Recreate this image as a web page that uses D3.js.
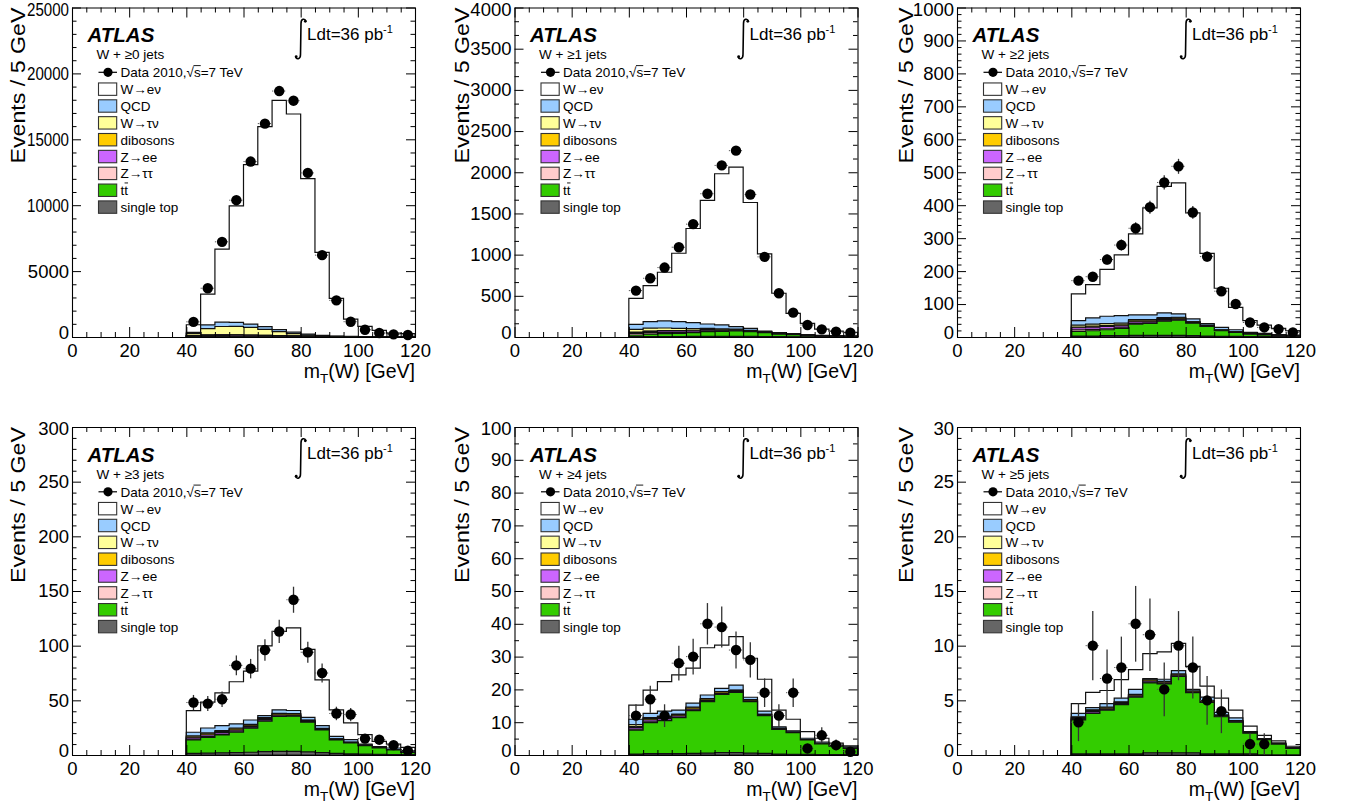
<!DOCTYPE html>
<html><head><meta charset="utf-8">
<script src="https://cdn.jsdelivr.net/npm/d3@7"></script>
<style>
body{margin:0;background:#fff;}
svg text{font-family:"Liberation Sans",Arial,Helvetica,sans-serif;fill:#000;}
</style>
</head><body>
<svg id="chart" width="1346" height="810"></svg>
<script>
// ---------------- data ----------------
const binLow = [40,45,50,55,60,65,70,75,80,85,90,95,100,105,110,115];
const binWidth = 5;
const jetLabels = ["W + \u22650 jets","W + \u22651 jets","W + \u22652 jets","W + \u22653 jets","W + \u22654 jets","W + \u22655 jets"];
const yMaxes = [25000,4000,1000,300,100,30];
const yMajorSteps = [5000,500,100,50,10,5];
const yMinorDivs = [5,3,5,5,2,5];
const xTicksMajor = [0,20,40,60,80,100,120];

const data0 = [1150,3700,7220,10380,13310,16190,18660,17930,12450,6210,2780,1160,550,300,200,150];
const wenu0 = [575,2344,5545,8840,12098,15176,17386,16557,11808,6301,2864,1319,774,484,289,242];
const qcd0 = [100,280,330,300,250,200,150,110,70,40,20,12,8,5,3,2];
const wtaunu0 = [150,480,620,640,580,450,300,160,70,30,15,8,5,3,2,1];
const dibosons0 = [5,8,10,12,12,12,12,10,8,5,3,2,1,1,1,0];
const zee0 = [20,40,60,70,70,60,50,40,30,20,12,8,5,3,2,2];
const ztautau0 = [60,80,70,50,30,20,10,5,3,2,1,1,1,0,0,0];
const ttbar0 = [15,20,25,28,30,32,32,30,25,18,12,8,5,3,2,2];
const singletop0 = [5,8,10,10,10,10,10,8,6,4,3,2,1,1,1,1];

const data1 = [563,713,843,1090,1370,1739,2083,2262,1730,973,531,296,146,93,65,53];
const wenu1 = [316,438,591,831,1143,1500,1836,1937,1528,936,478,248,136,75,57,45];
const qcd1 = [61,78,86,82,72,54,48,31,24,9,10,7,8,5,4,2];
const wtaunu1 = [35,35,30,25,20,15,10,7,4,2,1,1,1,0,0,0];
const dibosons1 = [4,5,6,6,6,6,6,5,5,4,3,2,1,1,1,1];
const zee1 = [10,15,18,18,16,14,10,8,6,4,3,2,1,1,1,0];
const ztautau1 = [20,18,15,10,7,4,3,2,1,1,0,0,0,0,0,0];
const ttbar1 = [20,30,34,39,46,57,61,65,58,47,32,25,17,12,8,6];
const singletop1 = [4,5,6,6,7,8,8,8,7,6,4,3,2,1,1,1];

const data2 = [171,183,235,279,330,394,469,518,378,244,139,100,44,29,24,14];
const wenu2 = [81,101,142,184,246,325,384,398,322,213,119,68,36,25,19,13];
const qcd2 = [14,19,22,23,14,14,14,10,8,5,7,6,3,4,3,2];
const wtaunu2 = [6,6,6,5,4,4,3,2,1,1,1,0,0,0,0,0];
const dibosons2 = [2,3,3,3,3,3,3,3,2,2,1,1,1,1,0,0];
const zee2 = [6,7,7,6,5,4,4,3,2,1,1,1,1,0,0,0];
const ztautau2 = [5,4,3,2,2,1,1,1,0,0,0,0,0,0,0,0];
const ttbar2 = [14,16,18,22,34,36,43,46,38,29,17,12,8,5,3,3];
const singletop2 = [3,3,4,4,5,5,5,5,4,3,2,2,1,1,1,1];

const data3 = [48,47,51,82,79,96,113,142,94,75,38,37,15,14,9,4];
const wenu3 = [19.8,23.6,30.0,38.6,44.7,63.9,71.7,75.6,62.2,41.9,24.3,15.3,8.6,4.9,3.6,3.0];
const qcd3 = [3.2,4.4,4.5,3.7,3.9,1.9,3.2,2.8,2.5,2.5,2.2,2.3,1.0,0.9,1.5,1.5];
const wtaunu3 = [1,1,0.9,0.8,0.7,0.6,0.5,0.4,0.3,0.2,0.1,0.1,0,0,0,0];
const dibosons3 = [0.8,1,1.1,1.2,1.2,1.2,1.2,1.1,1,0.8,0.6,0.4,0.3,0.2,0.2,0.1];
const zee3 = [1.2,1.5,1.6,1.5,1.4,1.2,1.0,0.8,0.6,0.5,0.3,0.2,0.1,0.1,0.1,0];
const ztautau3 = [0.8,0.6,0.5,0.4,0.3,0.2,0.2,0.1,0.1,0,0,0,0,0,0,0];
const ttbar3 = [12.3,14.4,16.3,18.6,22,27.9,31.9,32.2,27.2,20.7,12.4,10,7.8,5.8,4.2,2.1];
const singletop3 = [1.5,1.8,2,2.2,2.5,3,3.3,3.3,2.8,2.2,1.4,1,0.8,0.6,0.4,0.3];

const data4 = [12,17,12,28,30,40,39,32,29,19,12,19,2,6,3,1];
const wenu4 = [4.3,7.1,9.0,10.7,10.7,14.4,13.2,14.8,11.9,9.7,5.1,3.5,2.0,1.2,0.6,0.3];
const qcd4 = [1.6,1.3,1.6,1.2,1.2,1.1,1.0,1.5,0.7,1.0,0.5,0.4,0.4,0.4,0.2,0.5];
const wtaunu4 = [0.6,0.3,0.3,0.2,0.2,0.2,0.1,0.1,0.1,0,0,0,0,0,0,0];
const dibosons4 = [0.3,0.4,0.4,0.4,0.4,0.4,0.4,0.4,0.3,0.3,0.2,0.1,0.1,0.1,0.1,0];
const zee4 = [0.5,0.6,0.5,0.4,0.4,0.3,0.3,0.2,0.2,0.1,0.1,0.1,0,0,0,0];
const ztautau4 = [0.3,0.2,0.1,0.1,0.1,0,0,0,0,0,0,0,0,0,0,0];
const ttbar4 = [7.3,9.5,10.1,11.0,13.0,15.7,17.8,18.4,15.7,11.5,7.5,6.6,4.4,3.3,2.6,1.9];
const singletop4 = [0.3,0.4,0.4,0.4,0.5,0.6,0.7,0.7,0.6,0.5,0.3,0.2,0.2,0.1,0.1,0.1];

const data5 = [3,10,7,8,12,11,6,10,8,5,4,0,1,1,0,0];
const wenu5 = [0.9,1.4,1.2,1.7,1.8,2.3,2.5,2.5,2.1,1.0,1.3,0.7,0.5,0.3,0.2,0.15];
const qcd5 = [0.3,0.2,0.33,0.33,0.45,0.1,0.2,0.3,0.15,0.35,0.25,0.25,0.05,0.07,0.08,0.03];
const wtaunu5 = [0.05,0.05,0.05,0.05,0.03,0.02,0.02,0.01,0,0,0,0,0,0,0,0];
const dibosons5 = [0.1,0.1,0.1,0.1,0.1,0.1,0.1,0.1,0.1,0.1,0.05,0.05,0.05,0.03,0.02,0.02];
const zee5 = [0.1,0.15,0.1,0.1,0.1,0.15,0.1,0.1,0.05,0.05,0.1,0.1,0.05,0,0,0];
const ztautau5 = [0.05,0.03,0.02,0.02,0.02,0.01,0.01,0,0,0,0,0,0,0,0,0];
const ttbar5 = [3.1,3.7,4.0,4.5,5.2,6.4,6.3,7.0,5.5,4.7,3.4,2.9,1.9,1.4,1.0,0.6];
const singletop5 = [0.1,0.1,0.1,0.1,0.1,0.2,0.2,0.2,0.2,0.1,0.1,0.1,0.1,0,0,0];

// legend / components, bottom-to-top stacking order
const compNames = ["single top","t t\u0304","Z\u2192\u03c4\u03c4","Z\u2192ee","dibosons","W\u2192\u03c4\u03bd","QCD","W\u2192e\u03bd"];
const compColors = ["#666666","#33cc00","#ffcccc","#cc66ff","#ffcc00","#ffff99","#99ccff","#ffffff"];

const panels = [
  {data:data0, comps:[singletop0,ttbar0,ztautau0,zee0,dibosons0,wtaunu0,qcd0,wenu0]},
  {data:data1, comps:[singletop1,ttbar1,ztautau1,zee1,dibosons1,wtaunu1,qcd1,wenu1]},
  {data:data2, comps:[singletop2,ttbar2,ztautau2,zee2,dibosons2,wtaunu2,qcd2,wenu2]},
  {data:data3, comps:[singletop3,ttbar3,ztautau3,zee3,dibosons3,wtaunu3,qcd3,wenu3]},
  {data:data4, comps:[singletop4,ttbar4,ztautau4,zee4,dibosons4,wtaunu4,qcd4,wenu4]},
  {data:data5, comps:[singletop5,ttbar5,ztautau5,zee5,dibosons5,wtaunu5,qcd5,wenu5]}
];

// ---------------- layout ----------------
const colLeft = [72, 514.5, 957];
const rowTop = [7.5, 427];
const rowH = [329.5, 328];
const plotW = 343;
const ytitleOff = [47, 45.5, 44];
const FONT = '"Liberation Sans",Arial,Helvetica,sans-serif';

const svg = d3.select("#chart");

panels.forEach((P, p) => {
  const col = p % 3, row = Math.floor(p / 3);
  const L = colLeft[col], T = rowTop[row], H = rowH[row];
  const g = svg.append("g").attr("transform", `translate(${L},${T})`);
  const x = d3.scaleLinear().domain([0,120]).range([0, plotW]);
  const y = d3.scaleLinear().domain([0, yMaxes[p]]).range([H, 0]);

  // stacked histograms (cumulative), drawn top-most first
  const nb = binLow.length;
  const cum = [];
  let run = new Array(nb).fill(0);
  P.comps.forEach(c => { run = run.map((v,i)=>v + c[i]); cum.push(run.slice()); });
  const area = d3.area()
    .x(d => x(d.x))
    .y0(y(0))
    .y1(d => y(d.v))
    .curve(d3.curveStepAfter);
  for (let k = cum.length - 1; k >= 0; k--) {
    const pts = binLow.map((b,i)=>({x:b, v:cum[k][i]}));
    pts.push({x: binLow[nb-1] + binWidth, v: cum[k][nb-1]});
    g.append("path").attr("d", area(pts))
      .attr("fill", compColors[k]).attr("stroke", "#111").attr("stroke-width", 1.2)
      .attr("stroke-linejoin","miter");
  }

  // axes (ROOT style: ticks inside, on all four sides)
  const yMajor = d3.range(0, yMaxes[p] + 1e-9, yMajorSteps[p]);
  const yMinorStep = yMajorSteps[p] / yMinorDivs[p];
  const yMinor = d3.range(0, yMaxes[p] + 1e-9, yMinorStep).filter(v => Math.abs(v/yMajorSteps[p] - Math.round(v/yMajorSteps[p])) > 1e-6);
  const xMinor = d3.range(0, 121, 5).filter(v => v % 20 !== 0);

  const styleAxis = sel => { sel.selectAll(".domain").attr("stroke","#000").attr("stroke-width",1.1); sel.selectAll(".tick line").attr("stroke","#000").attr("stroke-width",1); };

  const gx = g.append("g").attr("transform", `translate(0,${H})`)
    .call(d3.axisBottom(x).tickValues(xTicksMajor).tickSize(-10).tickSizeOuter(0).tickPadding(7).tickFormat(d3.format("d")));
  styleAxis(gx);
  gx.selectAll("text").attr("font-size", "18.5px").attr("font-family", FONT).attr("fill","#000");
  g.append("g").attr("transform", `translate(0,${H})`)
    .call(d3.axisBottom(x).tickValues(xMinor).tickSize(-5).tickSizeOuter(0).tickFormat(""))
    .call(styleAxis).select(".domain").remove();
  const gxt = g.append("g").call(d3.axisTop(x).tickValues(xTicksMajor).tickSize(-10).tickSizeOuter(0).tickFormat(""));
  styleAxis(gxt);
  g.append("g").call(d3.axisTop(x).tickValues(xMinor).tickSize(-5).tickSizeOuter(0).tickFormat(""))
    .call(styleAxis).select(".domain").remove();

  const gy = g.append("g")
    .call(d3.axisLeft(y).tickValues(yMajor).tickSize(-9).tickSizeOuter(0).tickPadding(3).tickFormat(d3.format("d")));
  styleAxis(gy);
  gy.selectAll("text").attr("font-size", "18.5px").attr("font-family", FONT).attr("fill","#000")
    .each(function(d){
      const t = d3.select(this); const s = String(d);
      if (s.length >= 5) { t.attr("textLength", 42).attr("lengthAdjust","spacingAndGlyphs"); }
      if (d === 0) t.attr("dy","0.1em");
      if (d === yMaxes[p]) t.attr("dy","0.42em");
    });
  g.append("g").call(d3.axisLeft(y).tickValues(yMinor).tickSize(-4.5).tickSizeOuter(0).tickFormat(""))
    .call(styleAxis).select(".domain").remove();
  const gyr = g.append("g").attr("transform", `translate(${plotW},0)`)
    .call(d3.axisRight(y).tickValues(yMajor).tickSize(-9).tickSizeOuter(0).tickFormat(""));
  styleAxis(gyr);
  g.append("g").attr("transform", `translate(${plotW},0)`)
    .call(d3.axisRight(y).tickValues(yMinor).tickSize(-4.5).tickSizeOuter(0).tickFormat(""))
    .call(styleAxis).select(".domain").remove();

  // data points with sqrt(N) errors
  const pts = P.data.map((n,i)=>({c: binLow[i] + binWidth/2, n})).filter(d => d.n > 0);
  const dg = g.append("g");
  pts.forEach(d => {
    const e = Math.sqrt(d.n);
    dg.append("line").attr("x1", x(d.c - binWidth/2)).attr("x2", x(d.c + binWidth/2))
      .attr("y1", y(d.n)).attr("y2", y(d.n)).attr("stroke", "#555").attr("stroke-width", 1).attr("stroke-dasharray","1.2,1.2");
    dg.append("line").attr("x1", x(d.c)).attr("x2", x(d.c))
      .attr("y1", y(d.n - e)).attr("y2", y(Math.min(d.n + e, yMaxes[p]))).attr("stroke", "#333").attr("stroke-width", 1.3);
    dg.append("circle").attr("cx", x(d.c)).attr("cy", y(d.n)).attr("r", 5.2).attr("fill", "#000");
  });

  // axis titles
  const xt = g.append("text").attr("x", plotW).attr("y", H + 41).attr("text-anchor","end")
    .attr("font-size","19.5px").attr("font-family", FONT);
  xt.append("tspan").text("m");
  xt.append("tspan").attr("font-size","13.5px").attr("dy","5").text("T");
  xt.append("tspan").attr("dy","-5").text("(W) [GeV]");
  g.append("text").attr("transform", `translate(${-ytitleOff[col]},0) rotate(-90)`)
    .attr("text-anchor","end").attr("font-size","21px").attr("font-family", FONT)
    .attr("textLength", 156).attr("lengthAdjust","spacingAndGlyphs")
    .text("Events / 5 GeV");

  // ATLAS label and jet multiplicity
  g.append("text").attr("x", 15.5).attr("y", 34.5).attr("font-size","20.5px")
    .attr("font-weight","bold").attr("font-style","italic").attr("font-family", FONT).text("ATLAS");
  g.append("text").attr("x", 24.5).attr("y", 51.5).attr("font-size","13.5px").attr("font-family", FONT).text(jetLabels[p]);

  // luminosity
  const lx = 225;
  g.append("path").attr("d", `M${lx+9},${14} C${lx+8},${10.5} ${lx+4},${11} ${lx+4},${16} L${lx+3.5},${47} C${lx+3.5},${52} ${lx-0.5},${52.5} ${lx-1.5},${49}`)
    .attr("fill","none").attr("stroke","#000").attr("stroke-width",1.6);
  g.append("circle").attr("cx", lx+8.3).attr("cy", 13.8).attr("r", 1.4).attr("fill","#000");
  g.append("circle").attr("cx", lx-0.8).attr("cy", 49.2).attr("r", 1.4).attr("fill","#000");
  const lt = g.append("text").attr("x", lx + 10).attr("y", 32).attr("font-size","17px").attr("font-family", FONT);
  lt.append("tspan").text("Ldt=36 pb");
  lt.append("tspan").attr("font-size","11px").attr("dy","-7").text("-1");

  // legend
  const legX = 26.5, legY0 = 64.8, legStep = 16.85;
  const entries = [{label:"Data 2010,\u221as=7 TeV", type:"data"}];
  for (let k = compNames.length - 1; k >= 0; k--) entries.push({label: compNames[k], color: compColors[k]});
  entries.forEach((e, i) => {
    const cy = legY0 + i * legStep;
    if (e.type === "data") {
      g.append("line").attr("x1", legX).attr("x2", legX + 18.5).attr("y1", cy).attr("y2", cy).attr("stroke","#000").attr("stroke-width",1.2);
      g.append("circle").attr("cx", legX + 9.5).attr("cy", cy).attr("r", 4.6).attr("fill","#000");
    } else {
      g.append("rect").attr("x", legX).attr("y", cy - 6.2).attr("width", 18.2).attr("height", 12.4)
        .attr("fill", e.color).attr("stroke","#333").attr("stroke-width",1.1);
    }
    const label = e.label.replace("t t\u0304","tt");
    const txt = g.append("text").attr("x", legX + 22).attr("y", cy + 5).attr("font-size","13.5px").attr("font-family", FONT).text(label);
    const node = txt.node();
    if (e.type === "data") {
      const idx = label.indexOf("\u221a") + 1;
      const x0 = legX + 22 + node.getSubStringLength(0, idx);
      const w = node.getSubStringLength(idx, 1);
      g.append("line").attr("x1", x0 - 0.5).attr("x2", x0 + w).attr("y1", cy - 6.7).attr("y2", cy - 6.7).attr("stroke","#000").attr("stroke-width",0.9);
    }
    if (e.label === "t t\u0304") {
      const x0 = legX + 22 + node.getSubStringLength(0, 1);
      const w = node.getSubStringLength(1, 1);
      g.append("line").attr("x1", x0 + 0.3).attr("x2", x0 + w).attr("y1", cy - 7.3).attr("y2", cy - 7.3).attr("stroke","#000").attr("stroke-width",0.9);
    }
  });
});
</script>
</body></html>
